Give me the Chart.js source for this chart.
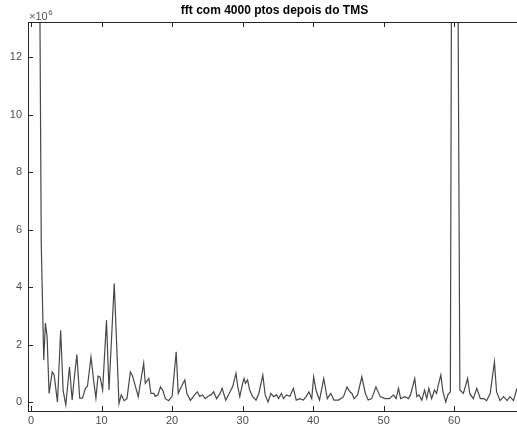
<!DOCTYPE html>
<html>
<head>
<meta charset="utf-8">
<script src="https://cdn.jsdelivr.net/npm/chart.js@4/dist/chart.umd.min.js"></script>
<style>
html,body{margin:0;padding:0;background:#fff;}
canvas{display:block;}
</style>
</head>
<body>
<canvas id="c" width="517" height="426"></canvas>
<script>
const titleText = "fft com 4000 ptos depois do TMS";
const xTicks = [0, 10, 20, 30, 40, 50, 60];
const yTicks = [0, 2, 4, 6, 8, 10, 12];
const yExponent = "6";
// frequency (Hz) and amplitude (x10^6)
const freqs = [1.2,1.45,1.8,2.04,2.28,2.56,3.0,3.27,3.75,4.2,4.55,4.93,5.45,5.83,6.1,6.5,6.9,7.3,7.7,8.0,8.5,8.87,9.2,9.5,9.8,10.15,10.7,11.05,11.8,12.47,12.8,13.2,13.6,14.08,14.4,15.2,15.97,16.2,16.7,17.0,17.4,17.6,18.0,18.35,18.7,19.05,19.5,20.0,20.58,20.87,21.2,21.8,22.1,22.6,23.0,23.57,23.9,24.3,24.7,25.1,25.5,25.9,26.3,26.8,27.1,27.6,28.1,28.6,29.06,29.3,29.6,30.0,30.2,30.4,30.7,31.0,31.4,31.9,32.3,32.86,33.2,33.6,34.0,34.4,34.8,35.1,35.5,35.8,36.2,36.7,37.2,37.6,38.1,38.6,39.0,39.4,39.8,40.07,40.4,40.9,41.5,42.0,42.5,42.95,43.6,44.3,44.8,45.2,45.5,45.8,46.3,46.9,47.4,47.8,48.3,48.9,49.5,50.2,50.8,51.4,51.75,52.1,52.4,53.0,53.5,53.8,54.4,54.7,55.0,55.4,55.8,56.1,56.4,56.8,57.2,57.5,57.8,58.1,58.4,58.8,59.1,59.45,59.95,60.8,61.3,61.9,62.2,62.7,63.2,63.7,64.2,64.6,65.1,65.7,66.0,66.5,67.0,67.5,67.9,68.4,68.9,69.2];
const amps = [16,5.5,1.46,2.75,2.26,0.3,1.05,0.95,0.0,2.5,0.4,-0.1,1.22,0.07,0.77,1.65,0.14,0.14,0.48,0.55,1.57,0.77,0.14,0.9,0.87,0.42,2.85,0.42,4.12,-0.05,0.25,0.05,0.12,1.05,0.9,0.19,1.35,0.65,0.82,0.3,0.3,0.2,0.25,0.53,0.4,0.12,0.05,0.2,1.75,0.3,0.48,0.77,0.3,0.06,0.19,0.36,0.2,0.25,0.12,0.2,0.25,0.36,0.12,0.3,0.48,0.07,0.3,0.55,1.0,0.55,0.19,0.65,0.82,0.65,0.77,0.42,0.2,0.07,0.3,0.94,0.25,0.0,0.3,0.19,0.25,0.12,0.3,0.12,0.25,0.2,0.48,0.07,0.12,0.07,0.19,0.36,0.12,0.88,0.42,0.07,0.82,0.12,0.3,0.07,0.07,0.19,0.53,0.36,0.3,0.12,0.25,0.88,0.3,0.07,0.12,0.53,0.19,0.12,0.12,0.25,0.12,0.48,0.12,0.19,0.12,0.25,0.82,0.19,0.25,0.07,0.42,0.12,0.48,0.12,0.42,0.3,0.65,0.94,0.36,0.0,0.25,0.36,45,0.42,0.3,0.82,0.3,0.12,0.48,0.12,0.12,0.05,0.3,1.4,0.36,0.05,0.19,0.05,0.19,0.05,0.48,0.6];

const axisColor = '#262626';
const tickFont = {family: "'Liberation Sans', Arial, sans-serif", size: 11};

const decor = {
  id: 'decor',
  afterDraw(chart) {
    const ctx = chart.ctx;
    const a = chart.chartArea;
    const xs = chart.scales.x, ys = chart.scales.y;
    ctx.save();
    ctx.strokeStyle = axisColor;
    ctx.lineWidth = 1;
    ctx.beginPath();
    ctx.moveTo(a.left, a.top + 0.5);
    ctx.lineTo(a.right, a.top + 0.5);
    xTicks.forEach(v => {
      const p = Math.round(xs.getPixelForValue(v)) + 0.5;
      ctx.moveTo(p, a.bottom); ctx.lineTo(p, a.bottom - 5);
      ctx.moveTo(p, a.top); ctx.lineTo(p, a.top + 5);
    });
    yTicks.forEach(v => {
      const p = Math.round(ys.getPixelForValue(v)) + 0.5;
      ctx.moveTo(a.left, p); ctx.lineTo(a.left + 5, p);
    });
    ctx.stroke();
    ctx.fillStyle = '#000';
    ctx.font = "bold 12px 'Liberation Sans', Arial, sans-serif";
    ctx.textAlign = 'center';
    ctx.textBaseline = 'middle';
    ctx.fillText(titleText, 274.5, 11);
    ctx.fillStyle = '#555';
    ctx.textAlign = 'left';
    ctx.textBaseline = 'alphabetic';
    ctx.font = "11px 'Liberation Sans', Arial, sans-serif";
    const base = '\u00d710';
    ctx.fillText(base, a.left + 1, 20);
    const w = ctx.measureText(base).width;
    ctx.font = "8px 'Liberation Sans', Arial, sans-serif";
    ctx.fillText(yExponent, a.left + 1 + w + 0.5, 15);
    ctx.restore();
  }
};

new Chart(document.getElementById('c'), {
  type: 'scatter',
  data: {
    datasets: [{
      data: freqs.map((f, i) => ({x: f, y: amps[i]})),
      showLine: true,
      borderColor: '#484848',
      borderWidth: 1.2,
      pointRadius: 0,
      pointHoverRadius: 0,
      tension: 0
    }]
  },
  options: {
    responsive: false,
    animation: false,
    events: [],
    layout: {padding: {top: 22, right: 0, left: 0, bottom: 0}},
    plugins: {legend: {display: false}, tooltip: {enabled: false}, title: {display: false}},
    scales: {
      x: {
        type: 'linear',
        min: -0.43,
        max: 68.9,
        afterBuildTicks(s) { s.ticks = xTicks.map(v => ({value: v})); },
        afterFit(s) { s.height = 15; },
        grid: {display: false, drawTicks: false},
        border: {display: true, color: axisColor, width: 1},
        ticks: {color: '#4d4d4d', font: tickFont, padding: 3, maxRotation: 0, autoSkip: false}
      },
      y: {
        type: 'linear',
        min: -0.31,
        max: 13.22,
        afterBuildTicks(s) { s.ticks = yTicks.map(v => ({value: v})); },
        afterFit(s) { s.width = 28; },
        grid: {display: false, drawTicks: false},
        border: {display: true, color: axisColor, width: 1},
        ticks: {color: '#4d4d4d', font: tickFont, padding: 6, autoSkip: false}
      }
    }
  },
  plugins: [decor]
});
</script>
</body>
</html>
